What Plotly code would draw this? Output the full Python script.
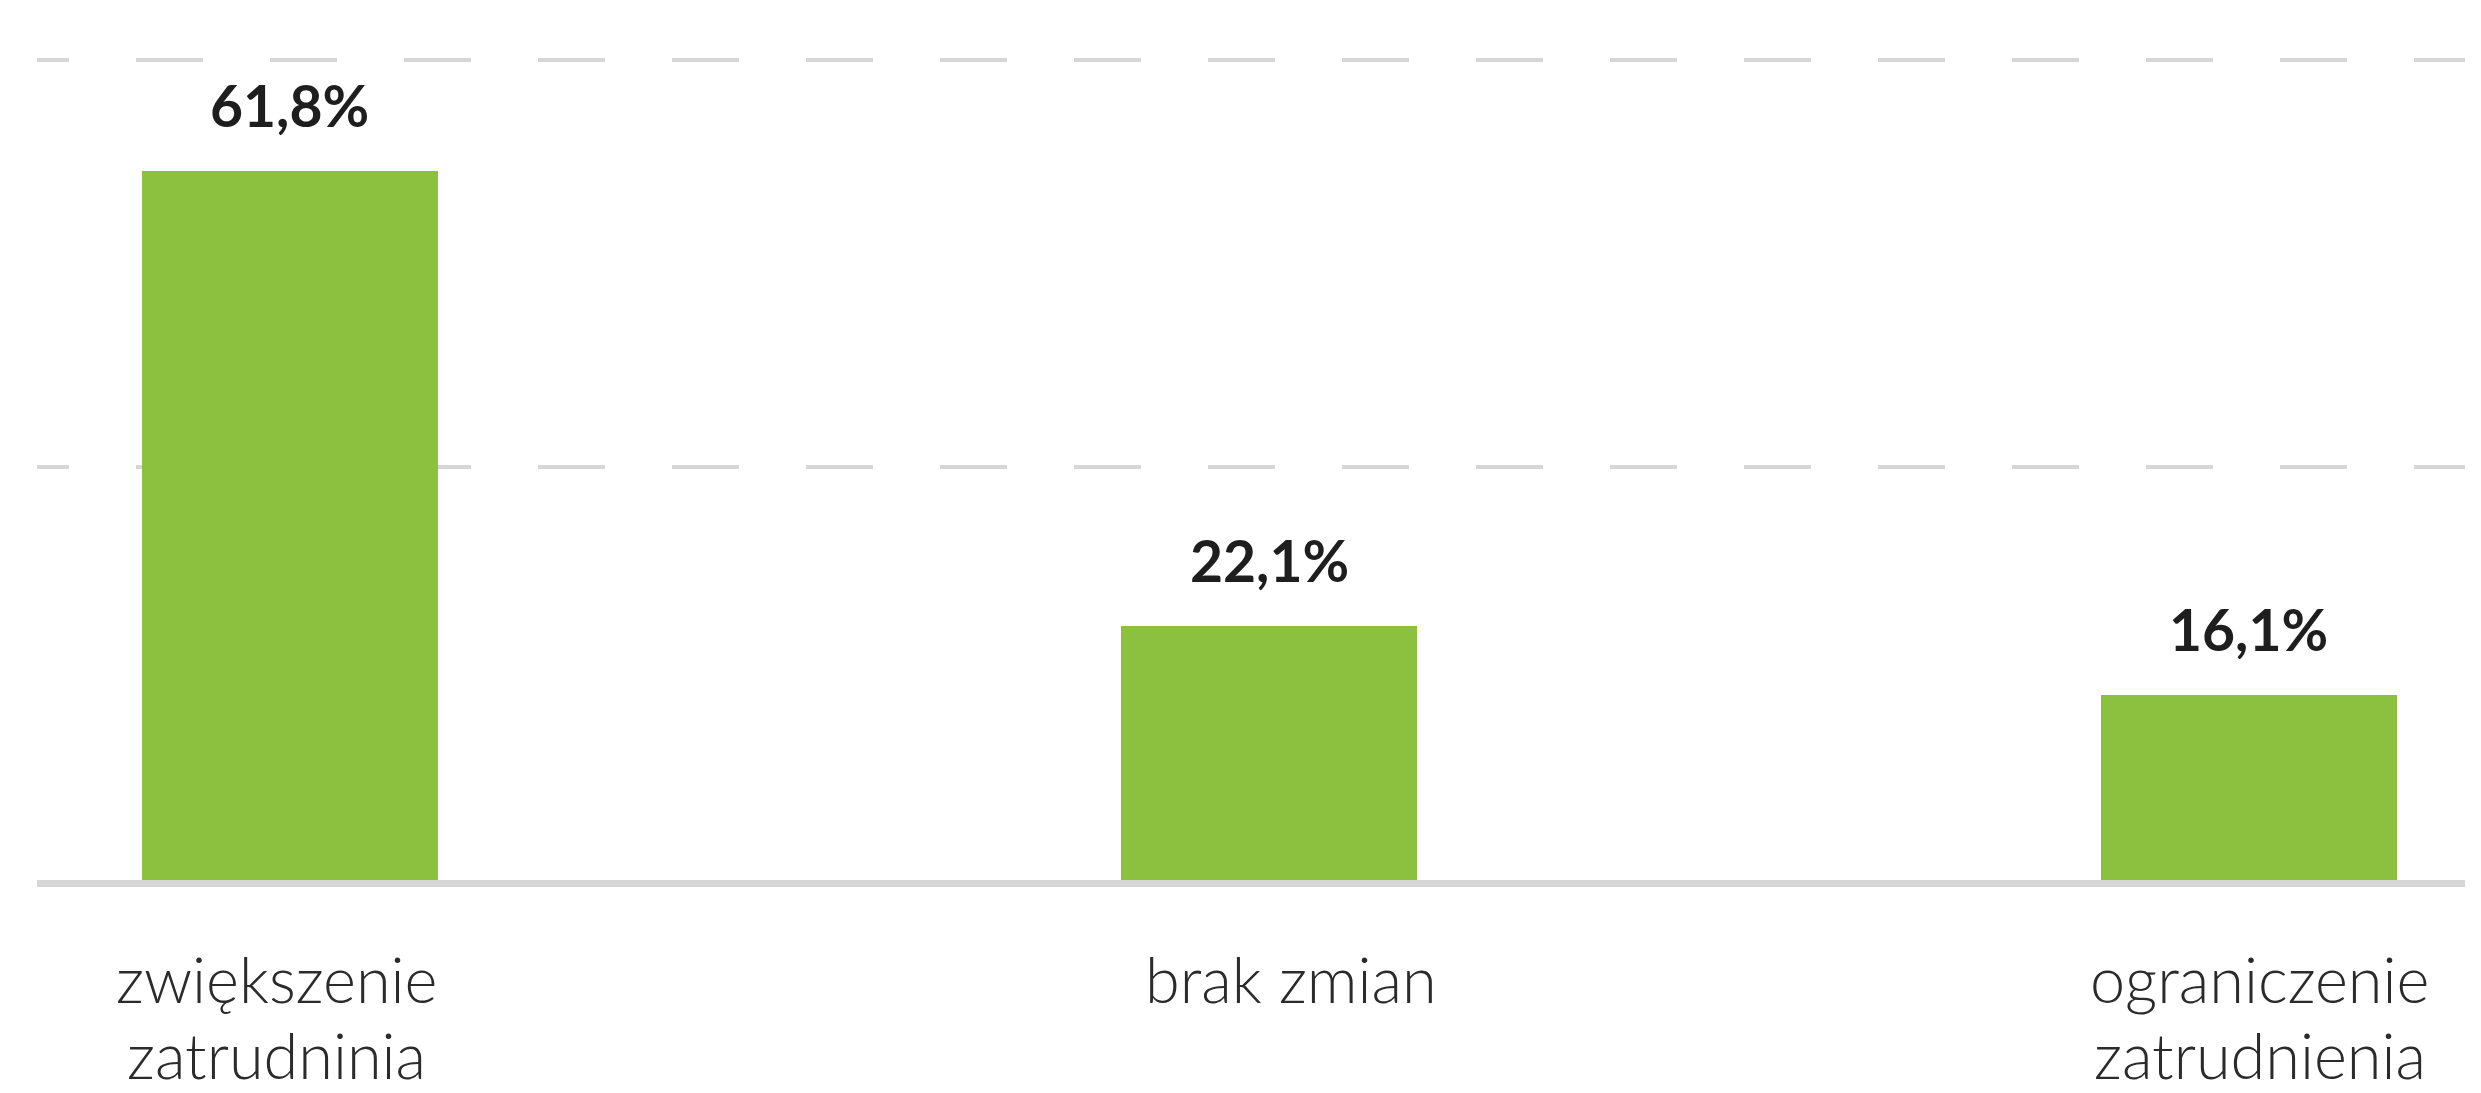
import plotly.graph_objects as go

# data
categories = ["zwiększenie zatrudninia", "brak zmian", "ograniczenie zatrudnienia"]
label_lines = [["zwiększenie", "zatrudninia"], ["brak zmian"], ["ograniczenie", "zatrudnienia"]]
values = [61.8, 22.1, 16.1]
value_labels = ["61,8%", "22,1%", "16,1%"]
grid_values = [36, 71.5]

green = "#8BC13F"
grey = "#d6d6d6"
label_xshift = [-13, 22, 11]  # labels sit slightly off the bar centres in the original

fig = go.Figure(go.Bar(x=categories, y=values, marker_color=green,
                       marker_line_width=0, width=0.302, hoverinfo="skip"))

# percentages above the bars
for cat, val, txt in zip(categories, values, value_labels):
    fig.add_annotation(x=cat, y=val, text=txt, showarrow=False, yanchor="bottom", yshift=30,
                       font=dict(family="Lato", size=57, color="#1e1e1e", weight=700))

# category names below the axis, one annotation per line
for cat, lines, xs in zip(categories, label_lines, label_xshift):
    for i, line in enumerate(lines):
        fig.add_annotation(x=cat, y=0, text=line, showarrow=False, yanchor="top",
                           xshift=xs, yshift=-60 - 76 * i, borderpad=0,
                           font=dict(family="Lato", size=63, color="#2b2b2b", weight=300))

dash = "32px,67px," + ",".join(["67px"] * 36)

fig.update_layout(
    width=2481, height=1093,
    margin=dict(l=37, r=16, t=8, b=213),
    plot_bgcolor="white", paper_bgcolor="white",
    showlegend=False, bargap=0,
)
fig.update_xaxes(range=[-0.258, 2.2205], showticklabels=False, ticks="",
                 showgrid=False, showline=True, linecolor=grey, linewidth=7, zeroline=False)
fig.update_yaxes(range=[0, 76], tickmode="array", tickvals=grid_values, showticklabels=False,
                 ticks="", showgrid=True, gridcolor=grey, gridwidth=4, griddash=dash,
                 zeroline=False, showline=False)

fig.write_html("out.html", config={"displayModeBar": False},
               post_script="document.body.style.margin='0';")
